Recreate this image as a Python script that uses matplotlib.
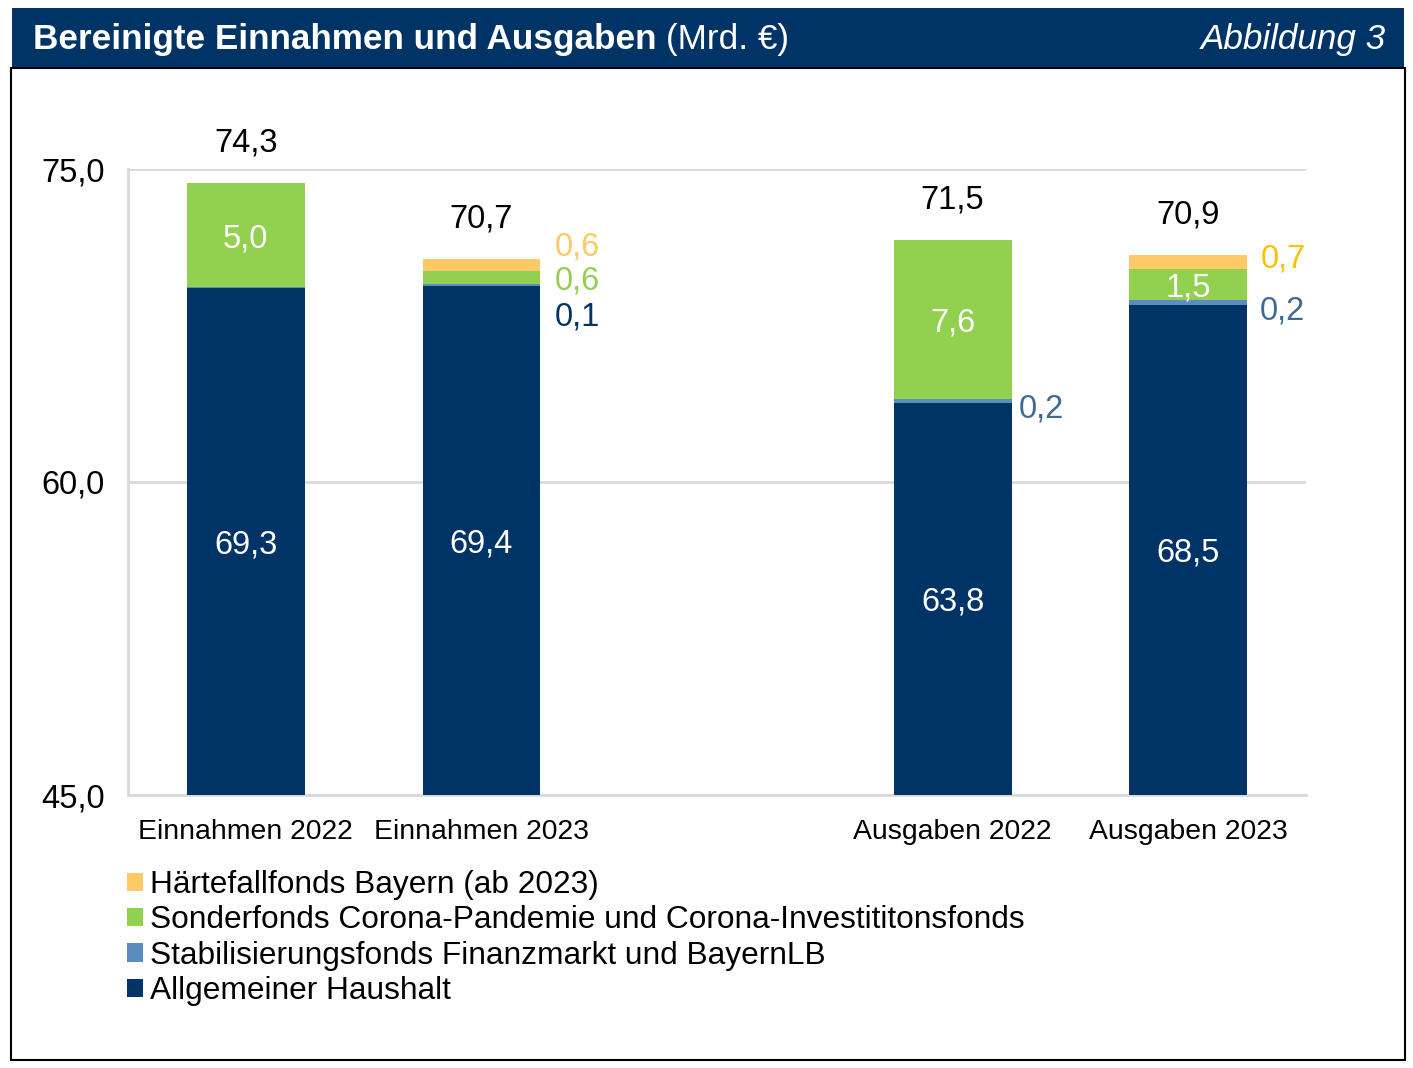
import matplotlib
matplotlib.use("Agg")
import matplotlib.pyplot as plt
from matplotlib.patches import Rectangle, Patch

plt.rcParams['font.family'] = ['Liberation Sans', 'DejaVu Sans']

# ---- data ----
categories = ["Einnahmen 2022", "Einnahmen 2023", "Ausgaben 2022", "Ausgaben 2023"]
positions = [0, 1, 3, 4]
allgemein = [69.3, 69.4, 63.8, 68.5]
stabil = [0.03, 0.1, 0.2, 0.2]
sonder = [5.0, 0.6, 7.6, 1.5]
haerte = [0.0, 0.6, 0.0, 0.7]
totals = [74.3, 70.7, 71.5, 70.9]
series_names = ["Allgemeiner Haushalt",
                "Stabilisierungsfonds Finanzmarkt und BayernLB",
                "Sonderfonds Corona-Pandemie und Corona-Investititonsfonds",
                "Härtefallfonds Bayern (ab 2023)"]
yticks = [45.0, 60.0, 75.0]

NAVY = "#003366"
STEEL = "#5B8DBE"
GREEN = "#92D050"
YELLOW = "#FFC966"

W, H = 1413, 1068
fig = plt.figure(figsize=(W / 100, H / 100), dpi=100)

def fx(px):
    return px / W

def fy(py):
    return 1 - py / H

# header bar and frame
fig.patches.append(Rectangle((fx(12), fy(67)), fx(1404) - fx(12), fy(8) - fy(67),
                             transform=fig.transFigure, facecolor=NAVY, edgecolor="none", zorder=-5))
fig.patches.append(Rectangle((fx(11), fy(1060)), fx(1405) - fx(11), fy(68) - fy(1060),
                             transform=fig.transFigure, facecolor="white", edgecolor="black",
                             linewidth=1.5, zorder=-5))

TFS = 25.3
fig.text(fx(33), fy(39), "Bereinigte Einnahmen und Ausgaben", color="white",
         fontsize=TFS, fontweight="bold", va="center", ha="left")
fig.text(fx(666), fy(39), "(Mrd. €)", color="white", fontsize=TFS, va="center", ha="left")
fig.text(fx(1386), fy(39), "Abbildung 3", color="white", fontsize=TFS, style="italic",
         va="center", ha="right")

ax = fig.add_axes([fx(128), fy(795), fx(1306) - fx(128), fy(169) - fy(795)])
ax.set_xlim(-0.5, 4.5)
ax.set_ylim(45, 75)
ax.patch.set_alpha(0)

bw = 0.5
ax.bar(positions, allgemein, bottom=0, width=bw, color=NAVY, zorder=3)
bot2 = allgemein
ax.bar(positions, stabil, bottom=bot2, width=bw, color=STEEL, zorder=3)
bot3 = [a + s for a, s in zip(allgemein, stabil)]
ax.bar(positions, sonder, bottom=bot3, width=bw, color=GREEN, zorder=3)
bot4 = [b + s for b, s in zip(bot3, sonder)]
ax.bar(positions, haerte, bottom=bot4, width=bw, color=YELLOW, zorder=3)

def fmt(v):
    return f"{v:.1f}".replace(".", ",")

LFS = 23.5
ax.set_yticks(yticks)
ax.set_yticklabels([fmt(v) for v in yticks], fontsize=LFS)
ax.set_xticks(positions)
ax.set_xticklabels(categories, fontsize=20.4)
ax.tick_params(axis="y", length=0, pad=17)
ax.tick_params(axis="x", length=0, pad=17)
ax.grid(axis="y", color="#D9D9D9", linewidth=2, zorder=0)
for s in ["top", "right"]:
    ax.spines[s].set_visible(False)
ax.spines["left"].set_color("#D9D9D9")
ax.spines["bottom"].set_color("#D9D9D9")
ax.spines["left"].set_linewidth(2)
ax.spines["bottom"].set_linewidth(2)

DY = -3.5

def label(txt, x, y, dx, dy, ha, color):
    ax.annotate(txt, xy=(x, y), xytext=(dx, dy + DY), textcoords="offset pixels",
                ha=ha, va="center", fontsize=LFS, color=color, zorder=5)

# totals above bars
for x, top, t in zip(positions, [b + h for b, h in zip(bot4, haerte)], totals):
    label(fmt(t), x, top, 0, 43, "center", "black")

# inner labels (white)
for i, x in enumerate(positions):
    label(fmt(allgemein[i]), x, (45 + allgemein[i]) / 2, 0, 0, "center", "white")

# sonder labels: inside for bars 0,2,3 ; outside for bar 1
for i, x in enumerate(positions):
    c = bot3[i] + sonder[i] / 2
    if i == 1:
        label(fmt(sonder[i]), x + bw / 2, c, 14, 0, "left", GREEN)
    else:
        label(fmt(sonder[i]), x, c, 0, 0, "center", "white")

# outside labels for stabil and haerte
stab_colors = [None, NAVY, "#3F6A96", "#3F6A96"]
stab_dx = [None, 14, 7, 13]
stab_off = [None, -29, -5, -5]
hart_off = [None, 21, 6, 6]
hart_colors = [None, "#FFC966", None, "#FFC000"]
for i, x in enumerate(positions):
    if i > 0:
        c = bot2[i] + stabil[i] / 2
        label(fmt(stabil[i]), x + bw / 2, c, stab_dx[i], stab_off[i], "left", stab_colors[i])
    if haerte[i] > 0:
        c = bot4[i] + haerte[i] / 2
        label(fmt(haerte[i]), x + bw / 2, c, 14, hart_off[i], "left", hart_colors[i])

handles = [Patch(facecolor=YELLOW), Patch(facecolor=GREEN),
           Patch(facecolor=STEEL), Patch(facecolor=NAVY)]
fig.legend(handles, series_names[::-1], loc="upper left",
           bbox_to_anchor=(fx(127), fy(870)), frameon=False, fontsize=22.8,
           handlelength=0.52, handleheight=0.52, handletextpad=0.22,
           labelspacing=0.17, borderpad=0, borderaxespad=0)

fig.savefig("out.png", dpi=100)
